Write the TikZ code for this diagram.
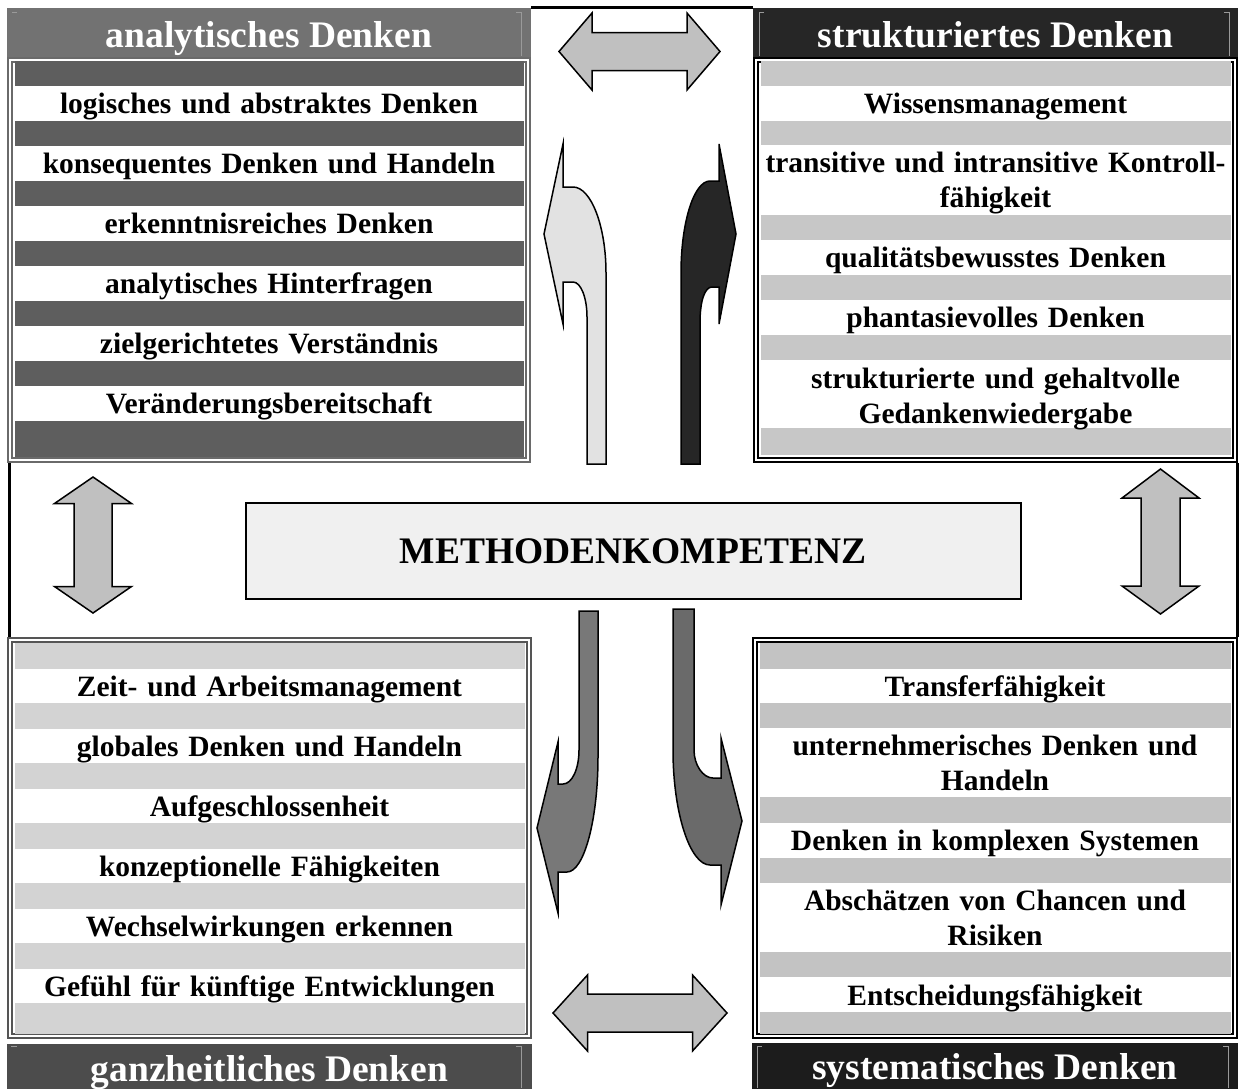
\documentclass[tikz,border=0pt]{standalone}
\usepackage{fontspec}
\setmainfont{Liberation Serif}
\usepackage{xcolor}
\usepackage{tikz}
\definecolor{hdrA}{HTML}{727272}
\definecolor{barA}{HTML}{5E5E5E}
\definecolor{lineA}{HTML}{6A6A6A}
\definecolor{hdrB}{HTML}{262626}
\definecolor{barB}{HTML}{C7C7C7}
\definecolor{hdrC}{HTML}{4C4C4C}
\definecolor{barC}{HTML}{D3D3D3}
\definecolor{lineC}{HTML}{555555}
\definecolor{hdrD}{HTML}{1C1C1C}
\definecolor{barD}{HTML}{C3C3C3}
\definecolor{bevelgray}{HTML}{9A9A9A}
\definecolor{arrowgray}{HTML}{C0C0C0}
\definecolor{boxgray}{HTML}{F0F0F0}
\definecolor{bendlight}{HTML}{E2E2E2}
\definecolor{benddark}{HTML}{262626}
\definecolor{bendmidA}{HTML}{787878}
\definecolor{bendmidB}{HTML}{6A6A6A}

\begin{document}
\begin{tikzpicture}[
    x=1pt, y=-1pt,
    row/.style={font=\fontsize{29.5}{35}\selectfont\bfseries, text width=500pt, align=center, anchor=base, inner sep=0pt},
    head/.style={font=\fontsize{37.5}{42}\selectfont\bfseries, text=white, inner sep=0pt, text height=29pt, text depth=0pt},
    panel/.style={double=white, line width=1.6pt, double distance=2.4pt, fill=white},
    bevel/.style={line width=1pt, draw=bevelgray},
    block/.style={draw=black, line width=1.5pt, line join=miter, fill=arrowgray},
    bentarrow/.style={draw=black, line width=1.5pt, line join=miter},
    frame/.style={line width=3pt}
]
\useasboundingbox (0,0) rectangle (1239,1088);

% frame pieces between the panels
\draw[frame] (531,7) -- (753,7);
\draw[frame] (9.5,463) -- (9.5,637);
\draw[frame] (1237.5,463) -- (1237.5,637);

% panels
\draw[panel, draw=lineA] (9.8,59.8) rectangle (528.2,460.2);
\draw[panel, draw=black] (755.8,59.8) rectangle (1235.2,460.2);
\draw[panel, draw=lineC] (9.8,639.8) rectangle (529.2,1036.2);
\draw[panel, draw=black] (754.8,639.8) rectangle (1235.2,1036.2);

% stripes
\foreach \y in {61,121,181,241,301,361}
    \fill[barA] (15,\y) rectangle (524,\y+25);
\fill[barA] (15,421) rectangle (524,456.5);
\fill[barB] (761,61) rectangle (1231,86);
\fill[barB] (761,121) rectangle (1231,145);
\fill[barB] (761,215) rectangle (1231,240);
\fill[barB] (761,275) rectangle (1231,300);
\fill[barB] (761,335) rectangle (1231,360);
\fill[barB] (761,428) rectangle (1231,455);
\foreach \y in {643,703,763,823,883,943}
    \fill[barC] (15,\y) rectangle (525,\y+25.5);
\fill[barC] (15,1003) rectangle (525,1033.5);
\fill[barD] (760,643) rectangle (1231,669);
\fill[barD] (760,703) rectangle (1231,728);
\fill[barD] (760,797) rectangle (1231,823);
\fill[barD] (760,858) rectangle (1231,883);
\fill[barD] (760,952) rectangle (1231,977);
\fill[barD] (760,1012) rectangle (1231,1034);

% headers
\node[head, fill=hdrA, minimum width=524pt, minimum height=49pt] (anHead) at (269,32.5) {analytisches Denken};
\node[head, fill=hdrB, minimum width=485pt, minimum height=49pt] (stHead) at (995.5,32.5) {strukturiertes Denken};
\node[head, fill=hdrC, minimum width=525pt, minimum height=46pt] (gzHead) at (269.5,1067) {ganzheitliches Denken};
\node[head, fill=hdrD, minimum width=486pt, minimum height=46pt, text height=27pt] (syHead) at (995,1066) {systematisches Denken};
\draw[bevel] (17,12) -- (12,12);
\draw[bevel] (516,12) -- (521,12) -- (521,56);
\draw[bevel] (764,12) -- (759,12) -- (759,56);
\draw[bevel] (1224,12) -- (1229,12) -- (1229,56);
\draw[bevel] (17,1046) -- (11,1046);
\draw[bevel] (516,1046) -- (521,1046) -- (521,1088);
\draw[bevel] (762,1046) -- (757,1046) -- (757,1088);
\draw[bevel] (1223,1046) -- (1228,1046) -- (1228,1088);

% analytisches Denken
\node[row] (an1) at (269,113) {logisches und abstraktes Denken};
\node[row] (an2) at (269,173) {konsequentes Denken und Handeln};
\node[row] (an3) at (269,233) {erkenntnisreiches Denken};
\node[row] (an4) at (269,293) {analytisches Hinterfragen};
\node[row] (an5) at (269,353) {zielgerichtetes Verständnis};
\node[row] (an6) at (269,413) {Veränderungsbereitschaft};

% strukturiertes Denken
\node[row] (st1) at (995.5,113) {Wissensmanagement};
\node[row] (st2) at (995.5,172) {transitive und intransitive Kontroll-\\fähigkeit};
\node[row] (st3) at (995.5,267.5) {qualitätsbewusstes Denken};
\node[row] (st4) at (995.5,327.5) {phantasievolles Denken};
\node[row] (st5) at (995.5,388) {strukturierte und gehaltvolle\\Gedankenwiedergabe};

% ganzheitliches Denken
\node[row] (gz1) at (269.5,696) {Zeit- und Arbeitsmanagement};
\node[row] (gz2) at (269.5,756) {globales Denken und Handeln};
\node[row] (gz3) at (269.5,816) {Aufgeschlossenheit};
\node[row] (gz4) at (269.5,876) {konzeptionelle Fähigkeiten};
\node[row] (gz5) at (269.5,936) {Wechselwirkungen erkennen};
\node[row] (gz6) at (269.5,996) {Gefühl für künftige Entwicklungen};

% systematisches Denken
\node[row] (sy1) at (995,696) {Transferfähigkeit};
\node[row] (sy2) at (995,755) {unternehmerisches Denken und\\Handeln};
\node[row] (sy3) at (995,850.5) {Denken in komplexen Systemen};
\node[row] (sy4) at (995,910) {Abschätzen von Chancen und\\Risiken};
\node[row] (sy5) at (995,1005) {Entscheidungsfähigkeit};

% centre
\node[draw, line width=2pt, fill=boxgray, minimum width=775pt, minimum height=96pt,
      font=\fontsize{37.5}{42}\selectfont\bfseries, text height=24.5pt, text depth=0pt] (mk) at (633,551) {METHODENKOMPETENZ};

% double arrows
\draw[block] (559,51.5) -- (592,13) -- (592,32.5) -- (687,32.5) -- (687,13) -- (720,51.5)
    -- (687,90) -- (687,70.5) -- (592,70.5) -- (592,90) -- cycle;
\draw[block] (553,1013) -- (587.5,975) -- (587.5,994) -- (692.5,994) -- (692.5,975) -- (727,1013)
    -- (692.5,1051) -- (692.5,1032) -- (587.5,1032) -- (587.5,1051) -- cycle;
\draw[block] (93,477) -- (131.5,503.5) -- (112,503.5) -- (112,586.5) -- (131.5,586.5) -- (93,613)
    -- (54.5,586.5) -- (74,586.5) -- (74,503.5) -- (54.5,503.5) -- cycle;
\draw[block] (1160.5,469) -- (1199,498) -- (1180,498) -- (1180,586) -- (1199,586) -- (1160.5,614)
    -- (1122,586) -- (1141,586) -- (1141,498) -- (1122,498) -- cycle;

% bent arrows
\draw[bentarrow, fill=bendlight] (606,464) -- (606,273) .. controls (606,226) and (591,187) .. (573,187)
    -- (563,187) -- (563,144) -- (544,234) -- (563,324) -- (563,282) -- (573,282)
    .. controls (581,282) and (587,298) .. (587,317) -- (587,464) -- cycle;
\draw[bentarrow, fill=benddark] (681,464) -- (681,273) .. controls (681,222) and (694,181) .. (710,181)
    -- (719,181) -- (719,144) -- (736,234) -- (719,324) -- (719,287) -- (712,287)
    .. controls (705,287) and (700,300) .. (700,323) -- (700,464) -- cycle;
\draw[bentarrow, fill=bendmidA] (579,611) -- (598,611) -- (598,757) .. controls (598,820) and (584,872) .. (567,872)
    -- (558,872) -- (558,913) -- (537,828) -- (558,742) -- (558,784) -- (563,784)
    .. controls (572,784) and (579,769) .. (579,750) -- cycle;
\draw[bentarrow, fill=bendmidB] (673,609) -- (694,609) -- (694,750) .. controls (694,765) and (703,778) .. (713,778)
    -- (721,778) -- (721,738) -- (742,821) -- (721,905) -- (721,865) -- (710,865)
    .. controls (690,865) and (673,813) .. (673,750) -- cycle;
\end{tikzpicture}
\end{document}
